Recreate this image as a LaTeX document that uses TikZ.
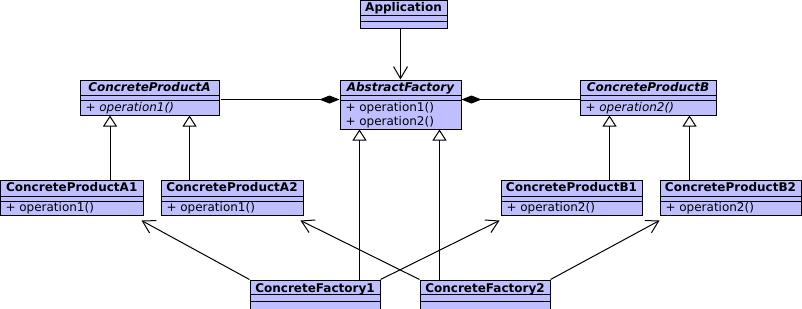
\documentclass[tikz,border=0pt]{standalone}
\usepackage{fontspec}
\setmainfont{DejaVu Sans}[ItalicFont={DejaVu Sans Oblique},BoldItalicFont={DejaVu Sans Bold Oblique}]
\usepackage{xcolor}
\usetikzlibrary{arrows.meta,fit,calc}
\definecolor{clsfill}{RGB}{191,191,255}

\begin{document}
\fontsize{9}{11}\selectfont
\begin{tikzpicture}[x=0.75pt,y=0.75pt,yscale=-1,xscale=1,line width=0.75pt,
  cls/.style={draw,fill=clsfill,inner sep=0pt},
  clsname/.style={anchor=base,inner sep=0pt,font=\bfseries},
  absname/.style={clsname,font=\bfseries\itshape},
  op/.style={anchor=base west,inner sep=0pt},
  absop/.style={op,font=\itshape},
  dep/.style={-{Straight Barb[length=9pt,width=10.5pt]}},
  inherit/.style={-{Triangle[open,length=8.25pt,width=10.5pt]}},
  compose/.style={-{Diamond[length=15pt,width=6pt]}}]
\useasboundingbox (0,0) rectangle (802,308);

%Class: Application
\node [cls, fit={(360,0.5) (447,28)}] (app) {};
\draw (360,15) -- (447,15) (360,21) -- (447,21);
\node [clsname] at (403.5,11) {Application};

%Class: AbstractFactory
\node [cls, fit={(340,80) (461,129)}] (af) {};
\draw (340,95) -- (461,95) (340,100) -- (461,100);
\node [absname] at (400.5,91.5) {AbstractFactory};
\node [op] at (345,111.7) {+ operation1()};
\node [op] at (345,125.5) {+ operation2()};

%Class: ConcreteProductA
\node [cls, fit={(80,80) (219,115)}] (cpa) {};
\draw (80,95) -- (219,95) (80,100) -- (219,100);
\node [absname] at (149.5,91.5) {ConcreteProductA};
\node [absop] at (85,111.7) {+ operation1()};

%Class: ConcreteProductB
\node [cls, fit={(580,80) (716,115)}] (cpb) {};
\draw (580,95) -- (716,95) (580,100) -- (716,100);
\node [absname] at (648,91.5) {ConcreteProductB};
\node [absop] at (585,111.7) {+ operation2()};

%Class: ConcreteProductA1
\node [cls, fit={(0.5,180) (143,215)}] (a1) {};
\draw (0.5,196) -- (143,196) (0.5,201.5) -- (143,201.5);
\node [clsname] at (71.75,191.5) {ConcreteProductA1};
\node [op] at (5,211.5) {+ operation1()};

%Class: ConcreteProductA2
\node [cls, fit={(161,180) (303,215)}] (a2) {};
\draw (161,196) -- (303,196) (161,201.5) -- (303,201.5);
\node [clsname] at (232,191.5) {ConcreteProductA2};
\node [op] at (166,211.5) {+ operation1()};

%Class: ConcreteProductB1
\node [cls, fit={(501,180) (642,215)}] (b1) {};
\draw (501,196) -- (642,196) (501,201.5) -- (642,201.5);
\node [clsname] at (571.5,191.5) {ConcreteProductB1};
\node [op] at (506,211.5) {+ operation2()};

%Class: ConcreteProductB2
\node [cls, fit={(660,180) (801,215)}] (b2) {};
\draw (660,196) -- (801,196) (660,201.5) -- (801,201.5);
\node [clsname] at (730.5,191.5) {ConcreteProductB2};
\node [op] at (665,211.5) {+ operation2()};

%Class: ConcreteFactory1
\node [cls, fit={(250,280) (380,315)}] (cf1) {};
\draw (250,294) -- (380,294) (250,301) -- (380,301);
\node [clsname] at (315,292) {ConcreteFactory1};

%Class: ConcreteFactory2
\node [cls, fit={(420,280) (550,315)}] (cf2) {};
\draw (420,294) -- (550,294) (420,301) -- (550,301);
\node [clsname] at (485,292) {ConcreteFactory2};

%Association
\draw [dep] (af.north |- app.south) -- (af.north);

%Composition
\draw [compose] ($(cpa.north east)+(1,20)$) coordinate (c1) -- (c1 -| af.west);
\draw [compose] ($(cpb.north west)+(0,20)$) coordinate (c2) -- (c2 -| af.east);

%Generalization
\draw [inherit] ($(a1.north west)+(110,0)$) coordinate (g1) -- (g1 |- cpa.south);
\draw [inherit] ($(a2.north west)+(29,0)$) coordinate (g2) -- (g2 |- cpa.south);
\draw [inherit] ($(b1.north west)+(109,0)$) coordinate (g3) -- (g3 |- cpb.south);
\draw [inherit] ($(b2.north west)+(30,0)$) coordinate (g4) -- (g4 |- cpb.south);
\draw [inherit] ($(cf1.north west)+(110,0)$) coordinate (g5) -- (g5 |- af.south);
\draw [inherit] ($(cf2.north west)+(20,0)$) coordinate (g6) -- (g6 |- af.south);

%Dependency
\draw [dep] (cf1.north west) -- ($(a1.south east)+(-2,5)$);
\draw [dep] (cf2.north west) -- ($(a2.south east)+(-3,5)$);
\draw [dep] (cf1.north east) -- ($(b1.south west)+(-1,5)$);
\draw [dep] (cf2.north east) -- ($(b2.south west)+(0,5)$);

\end{tikzpicture}
\end{document}
